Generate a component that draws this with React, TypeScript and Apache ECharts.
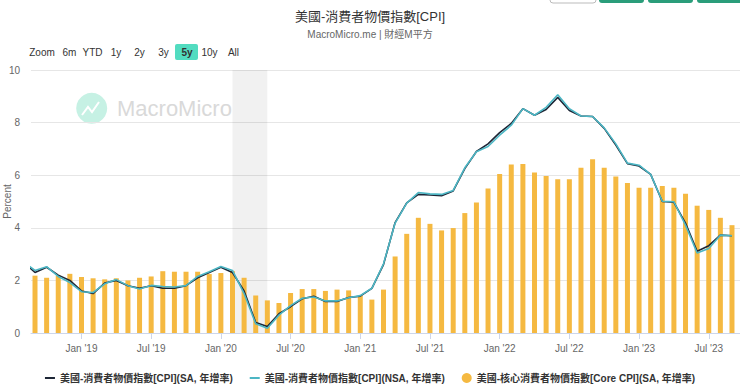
import React, { useEffect, useRef } from "react";
import * as echarts from "echarts";

const months = [
  "2018-08", "2018-09", "2018-10", "2018-11", "2018-12",
  "2019-01", "2019-02", "2019-03", "2019-04", "2019-05", "2019-06", "2019-07", "2019-08", "2019-09", "2019-10", "2019-11", "2019-12",
  "2020-01", "2020-02", "2020-03", "2020-04", "2020-05", "2020-06", "2020-07", "2020-08", "2020-09", "2020-10", "2020-11", "2020-12",
  "2021-01", "2021-02", "2021-03", "2021-04", "2021-05", "2021-06", "2021-07", "2021-08", "2021-09", "2021-10", "2021-11", "2021-12",
  "2022-01", "2022-02", "2022-03", "2022-04", "2022-05", "2022-06", "2022-07", "2022-08", "2022-09", "2022-10", "2022-11", "2022-12",
  "2023-01", "2023-02", "2023-03", "2023-04", "2023-05", "2023-06", "2023-07", "2023-08", "2023-09",
];

const cpiSA = [
  2.7, 2.3, 2.5, 2.2, 2.0,
  1.6, 1.5, 1.9, 2.0, 1.8, 1.7, 1.8, 1.7, 1.7, 1.8, 2.1, 2.3,
  2.5, 2.3, 1.6, 0.4, 0.25, 0.73, 1.0, 1.3, 1.4, 1.2, 1.2, 1.35,
  1.4, 1.7, 2.6, 4.2, 4.95, 5.27, 5.25, 5.22, 5.4, 6.25, 6.9, 7.19,
  7.62, 7.97, 8.53, 8.28, 8.5, 8.96, 8.46, 8.25, 8.23, 7.78, 7.15, 6.44,
  6.35, 6.03, 5.0, 4.97, 4.18, 3.11, 3.32, 3.72, 3.7,
];

const cpiNSA = [
  2.7, 2.38, 2.52, 2.15, 1.92,
  1.57, 1.54, 1.87, 2.03, 1.8, 1.67, 1.81, 1.77, 1.75, 1.8, 2.15, 2.33,
  2.53, 2.38, 1.5, 0.35, 0.18, 0.68, 1.04, 1.32, 1.37, 1.22, 1.22, 1.34,
  1.42, 1.7, 2.63, 4.18, 4.94, 5.34, 5.29, 5.27, 5.42, 6.28, 6.89, 7.09,
  7.52, 7.9, 8.53, 8.28, 8.58, 9.06, 8.53, 8.25, 8.23, 7.8, 7.19, 6.46,
  6.38, 6.03, 5.01, 4.99, 4.1, 3.04, 3.21, 3.72, 3.7,
];

const coreCPI = [
  null, 2.18, 2.1, 2.18, 2.25,
  2.13, 2.08, 2.04, 2.08, 2.0, 2.1, 2.15, 2.35, 2.33, 2.33, 2.33, 2.24,
  2.28, 2.35, 2.1, 1.43, 1.24, 1.14, 1.52, 1.67, 1.67, 1.6, 1.65, 1.62,
  1.42, 1.27, 1.65, 2.91, 3.77, 4.38, 4.15, 3.9, 3.99, 4.56, 4.96, 5.49,
  6.05, 6.41, 6.43, 6.1, 5.97, 5.85, 5.85, 6.28, 6.61, 6.28, 5.95, 5.7,
  5.52, 5.52, 5.59, 5.52, 5.29, 4.84, 4.68, 4.38, 4.1,
];

const tickMonths = ["2019-01", "2019-07", "2020-01", "2020-07", "2021-01", "2021-07", "2022-01", "2022-07", "2023-01", "2023-07"];
const tickLabels = ["Jan '19", "Jul '19", "Jan '20", "Jul '20", "Jan '21", "Jul '21", "Jan '22", "Jul '22", "Jan '23", "Jul '23"];
const recession = ["2020-02", "2020-05"];
const rangeButtons = ["Zoom", "6m", "YTD", "1y", "2y", "3y", "5y", "10y", "All"];
const rangeX = [42, 69.5, 92.5, 116, 139.5, 163.5, 187, 209.5, 233.5];

const seriesNames = [
  "美國-消費者物價指數[CPI](SA, 年增率)",
  "美國-消費者物價指數[CPI](NSA, 年增率)",
  "美國-核心消費者物價指數[Core CPI](SA, 年增率)",
];

const FONT = '"Liberation Sans", Arial, "Noto Sans CJK TC", sans-serif';
const DASH = "path://M0,0 L10,0 L10,2 L0,2 Z";

function monthIndex(m: string): number {
  const [y, mo] = m.split("-").map(Number);
  return (y - 2019) * 12 + (mo - 1);
}

export default function App() {
  const ref = useRef<HTMLDivElement>(null);
  useEffect(() => {
    document.body.style.margin = "0";
    if (!ref.current) return;
    const chart = echarts.init(ref.current, undefined, { renderer: "svg" });
    const tickVals = tickMonths.map(monthIndex);
    const labelMap: Record<number, string> = {};
    tickVals.forEach((v, i) => (labelMap[v] = tickLabels[i]));

    const graphics: any[] = [];
    graphics.push({ type: "rect", shape: { x: 550, y: -20, width: 46, height: 23, r: 3 }, style: { fill: "#fff", stroke: "#bbb", lineWidth: 1 } });
    [599, 648, 697].forEach((x) =>
      graphics.push({ type: "rect", shape: { x, y: -20, width: 45, height: 23, r: 3 }, style: { fill: "#2a9d7a" } })
    );
    graphics.push({ type: "rect", shape: { x: 175, y: 44, width: 23, height: 16, r: 2 }, style: { fill: "#52dcc0" } });
    rangeButtons.forEach((t, i) =>
      graphics.push({
        type: "text",
        x: rangeX[i],
        y: 52.5,
        style: { text: t, fill: "#333", font: `${t === "5y" ? "bold " : ""}10px ${FONT}`, align: "center", verticalAlign: "middle" },
      })
    );
    graphics.push({ type: "circle", shape: { cx: 91.7, cy: 108.3, r: 15.5 }, style: { fill: "#c6f1e4" } });
    graphics.push({
      type: "polyline",
      shape: { points: [[82, 115], [88, 107], [92, 112], [99, 102]] },
      style: { stroke: "#fff", lineWidth: 2, fill: null },
    });
    graphics.push({
      type: "text",
      x: 117,
      y: 108,
      style: { text: "MacroMicro", fill: "#d9d9d9", font: `22px ${FONT}`, verticalAlign: "middle" },
    });

    chart.setOption({
      animation: false,
      title: {
        text: "美國-消費者物價指數[CPI]",
        subtext: "MacroMicro.me | 財經M平方",
        left: "center",
        top: 5,
        itemGap: 6,
        textStyle: { fontSize: 13, fontWeight: "normal", color: "#333", fontFamily: FONT },
        subtextStyle: { fontSize: 10, color: "#666", fontFamily: FONT },
      },
      graphic: graphics,
      legend: {
        data: [
          { name: seriesNames[0], icon: DASH },
          { name: seriesNames[1], icon: DASH },
          { name: seriesNames[2], icon: "circle" },
        ],
        left: "center",
        top: 368,
        itemWidth: 10,
        itemHeight: 10,
        itemGap: 17,
        textStyle: { fontSize: 10, color: "#333", fontWeight: "bold", fontFamily: FONT },
      },
      grid: { left: 31, right: 0, top: 70, bottom: 52, outerBoundsMode: "none", containLabel: false },
      xAxis: {
        type: "value",
        min: -4.345,
        max: 56.69,
        splitLine: { show: false },
        axisLine: { show: true, lineStyle: { color: "#ccd6eb" } },
        axisTick: { show: true, customValues: tickVals, length: 6, lineStyle: { color: "#ccd6eb" } },
        axisLabel: {
          customValues: tickVals,
          formatter: (v: number) => labelMap[Math.round(v)] ?? "",
          fontSize: 10,
          color: "#666",
          margin: 10,
          fontFamily: FONT,
        },
      },
      yAxis: {
        type: "value",
        min: 0,
        max: 10,
        interval: 2,
        name: "Percent",
        nameLocation: "middle",
        nameGap: 19,
        nameMoveOverlap: false,
        nameTextStyle: { fontSize: 10, color: "#666", fontFamily: FONT },
        splitLine: { lineStyle: { color: "#e6e6e6" } },
        axisLine: { show: false },
        axisTick: { show: false },
        axisLabel: { fontSize: 10, color: "#666", margin: 11, fontFamily: FONT },
      },
      series: [
        {
          name: seriesNames[2],
          type: "bar",
          barWidth: 5,
          itemStyle: { color: "#f5b941" },
          data: months.map((m, i) => [monthIndex(m), coreCPI[i]]),
          markArea: {
            silent: true,
            itemStyle: { color: "rgba(0,0,0,0.055)" },
            data: [[{ xAxis: monthIndex(recession[0]) }, { xAxis: monthIndex(recession[1]) }]],
          },
          z: 1,
        },
        {
          name: seriesNames[0],
          type: "line",
          symbol: "none",
          lineStyle: { color: "#1d2636", width: 1.6 },
          itemStyle: { color: "#1d2636" },
          data: months.map((m, i) => [monthIndex(m), cpiSA[i]]),
          z: 3,
        },
        {
          name: seriesNames[1],
          type: "line",
          symbol: "none",
          lineStyle: { color: "#4cb6c4", width: 1.6 },
          itemStyle: { color: "#4cb6c4" },
          data: months.map((m, i) => [monthIndex(m), cpiNSA[i]]),
          z: 4,
        },
      ],
    });
    return () => chart.dispose();
  }, []);
  return <div ref={ref} style={{ width: 740, height: 385 }} />;
}
